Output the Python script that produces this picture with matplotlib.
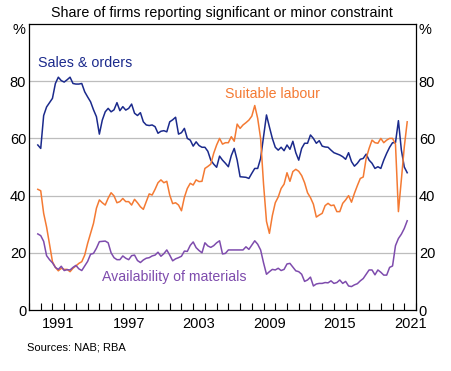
# Business survey: share of firms reporting constraints on output

import numpy as np
import matplotlib.pyplot as plt

plt.rcParams['font.family'] = ['Liberation Sans', 'DejaVu Sans']

# quarterly observations, Sep 1989 to Mar 2021
start_year = 1989.75
sales_orders = [57.7, 56.5, 68, 71, 72.5, 74, 79.2, 81.4, 80.2, 79.7,
                80.5, 81.4, 79.2, 79, 79, 79.2, 76.3, 74.5, 72.8, 70,
                67.6, 61.5, 66.4, 69.3, 70.5, 69.3, 70, 72.5, 69.7, 71.1,
                69.9, 70.5, 72, 68.8, 68, 69, 65.8, 64.7, 64.5, 64.7,
                64.1, 61.8, 62.5, 62.7, 62.3, 65.8, 66.5, 67.4, 61.5, 62,
                63.5, 60, 59.4, 57.3, 58.8, 57.5, 56.9, 56.9, 55.5, 52.4,
                51, 49.9, 53.8, 52.4, 51.3, 50.1, 54, 56.5, 52.4, 46.6,
                46.5, 46.4, 46, 47.8, 49.5, 49.5, 53, 60.6, 68.2, 64,
                60, 56.9, 55.9, 56.9, 55.7, 57.7, 56.2, 59, 55, 52.4,
                56.5, 58.3, 58.3, 61.2, 60, 58.3, 59.2, 57.3, 57, 56.9,
                55.9, 55, 54.6, 54.2, 53.6, 52.7, 55, 51.9, 50.3, 51.3,
                52.7, 53, 54.5, 52.4, 51.3, 49.5, 50.1, 49.5, 52.4, 54.8,
                56.9, 58.5, 58.5, 66.2, 56, 50, 48]
suitable_labour = [42.2, 41.7, 33.8, 29, 23, 16.9, 14.9, 13.7, 14.6, 14.2,
                   14.2, 13.4, 14.6, 15.4, 16.3, 16.9, 19.2, 23.3, 26.8, 30.3,
                   35.6, 38.5, 37.5, 36.7, 39.1, 41, 39.9, 37.5, 37.9, 39,
                   37.9, 37.9, 36.7, 38.7, 37.5, 36.1, 35.2, 37.9, 40.6, 40.2,
                   42.2, 44.5, 45.5, 44.5, 45, 40.2, 37.2, 37.5, 36.7, 34.7,
                   39.4, 42.5, 44.3, 43.7, 45.5, 44.9, 45, 49.5, 50.2, 51,
                   54.8, 57.7, 60, 58, 58.5, 58.5, 60.6, 59, 65, 63.5,
                   64.7, 65.5, 66.4, 67.8, 71.5, 67, 60, 44, 31, 26.8,
                   33, 37.5, 39.5, 42.5, 44, 48, 45, 48.4, 49.2, 48.5,
                   47, 44.5, 41, 39.3, 37, 32.5, 33.2, 33.8, 36.5, 37.3,
                   36.5, 36.7, 34.4, 34.4, 37.3, 38.5, 40, 37.7, 40.8, 43.5,
                   46, 46.5, 53, 56.5, 59.4, 58.5, 58.3, 60, 58.5, 59.4,
                   60, 60, 58, 34.4, 45.5, 57, 65.8]
materials = [26.6, 26, 24, 19, 17.6, 16.5, 14.9, 14.2, 15.3, 13.8,
             14.1, 14, 14.9, 15.6, 14.4, 13.8, 15.4, 17, 19.5, 19.8,
             21.6, 23.9, 24, 24.1, 23.5, 20, 18.3, 17.6, 17.6, 18.9,
             18.1, 17.6, 19, 19.2, 17.3, 16.6, 17.5, 18.1, 18.3, 18.9,
             19.2, 20.2, 18.8, 19.7, 21, 19.2, 17.2, 17.9, 18.3, 18.8,
             20.6, 20.5, 22.6, 23.8, 21.8, 20.8, 20, 23.5, 22.4, 21.9,
             22.5, 23.5, 24.2, 19.6, 19.8, 21, 21, 21, 21, 21,
             21, 22.1, 21.2, 22.7, 24.2, 23, 21, 16.5, 12.5, 13.4,
             14.2, 14, 14.6, 13.8, 14.2, 16.1, 16.3, 15, 13.7, 13.4,
             12.5, 10, 10.5, 11.5, 8.4, 9.1, 9.3, 9.3, 9.6, 9.5,
             10.2, 9.3, 9.6, 10.5, 9.3, 10, 8.4, 8.2, 8.8, 9.2,
             10.2, 11, 12.5, 14, 14, 12.3, 14, 13.2, 12.2, 12.2,
             14.9, 15.4, 22.5, 25, 26.5, 28.5, 31.2]

year_labels = [1991, 1997, 2003, 2009, 2015, 2021]
y_ticks = [0, 20, 40, 60, 80]

dates = start_year + 0.25 * np.arange(len(sales_orders))

col_sales = '#1b2a8c'
col_labour = '#f47a33'
col_mat = '#7e4cad'

fig = plt.figure(figsize=(4.51, 3.71), dpi=100)
ax = fig.add_axes([0.0643, 0.1644, 0.8581, 0.7709])

ax.plot(dates, sales_orders, c=col_sales, lw=1.1)
ax.plot(dates, suitable_labour, c=col_labour, lw=1.1)
ax.plot(dates, materials, c=col_mat, lw=1.1)

ax.set_xlim(1989, 2022)
ax.set_ylim(0, 100)

# grid only on the inner lines
for v in y_ticks[1:]:
	ax.axhline(v, color='#bdbdbd', lw=0.9, zorder=0)

# year ticks on boundaries, labels in the middle of the year
ax.set_xticks(np.arange(1989, 2023), minor=True)
ax.set_xticks([y + 0.5 for y in year_labels])
ax.set_xticklabels([str(y) for y in year_labels], fontsize=10.5)
ax.tick_params(axis='x', which='major', length=0, pad=5)
ax.tick_params(axis='x', which='minor', direction='in', length=5, width=0.8)

ax.set_yticks(y_ticks)
ax.tick_params(axis='y', length=0, pad=2, labelsize=10.5,
               left=True, right=True, labelleft=True, labelright=True)

for s in ax.spines.values():
	s.set_linewidth(0.9)

# series labels
ax.text(1989.8, 86.5, 'Sales & orders', color=col_sales, fontsize=10.3, va='center')
ax.text(2005.7, 75.6, 'Suitable labour', color=col_labour, fontsize=10.2, va='center')
ax.text(1995.2, 11.5, 'Availability of materials', color=col_mat, fontsize=10.2, va='center')

# unit labels and titles
fig.text(0.0554, 0.919, '%', fontsize=10.5, ha='right', va='center')
fig.text(0.929, 0.919, '%', fontsize=10.5, ha='left', va='center')
fig.text(0.492, 0.965, 'Share of firms reporting significant or minor constraint',
         fontsize=10.3, ha='center', va='center')
fig.text(0.06, 0.062, 'Sources: NAB; RBA', fontsize=8, ha='left', va='center')

plt.savefig('out.png', dpi=100)
